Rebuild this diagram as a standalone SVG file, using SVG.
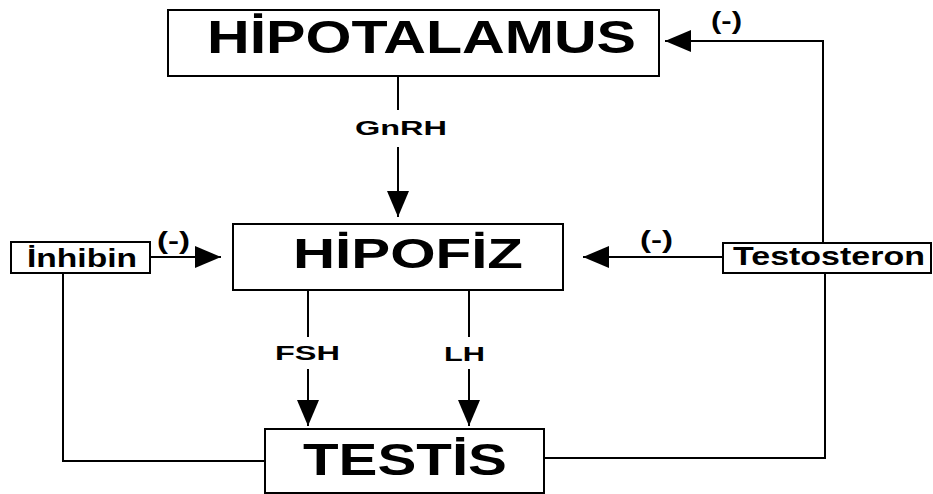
<svg xmlns="http://www.w3.org/2000/svg" width="933" height="494" viewBox="0 0 933 494">
<style>
.box{fill:#fff;stroke:#000;stroke-width:2}
.ln{fill:none;stroke:#000;stroke-width:2}
text{font-family:"Liberation Sans",Arial,sans-serif;font-weight:bold;fill:#000}
</style>
<defs>
<marker id="ah" viewBox="0 0 26 22" refX="26" refY="11" markerWidth="26" markerHeight="22" markerUnits="userSpaceOnUse" orient="auto">
<path d="M0,0 L26,11 L0,22 Z" fill="#000"/>
</marker>
</defs>
<rect width="933" height="494" fill="#fff"/>
<g id="connectors">
<line class="ln" x1="398" y1="76" x2="398" y2="110"/>
<line class="ln" x1="398" y1="147" x2="398" y2="217" marker-end="url(#ah)"/>
<polyline class="ln" points="823,243 823,41 665,41" marker-end="url(#ah)"/>
<line class="ln" x1="723" y1="257" x2="583" y2="257" marker-end="url(#ah)"/>
<line class="ln" x1="150" y1="257" x2="221" y2="257" marker-end="url(#ah)"/>
<polyline class="ln" points="63,273 63,461 265,461"/>
<polyline class="ln" points="825,273 825,458 544,458"/>
<line class="ln" x1="308" y1="290" x2="308" y2="337"/>
<line class="ln" x1="308" y1="369" x2="308" y2="426" marker-end="url(#ah)"/>
<line class="ln" x1="469" y1="290" x2="469" y2="337"/>
<line class="ln" x1="469" y1="369" x2="469" y2="426" marker-end="url(#ah)"/>
<text x="355" y="135" font-size="20.5" textLength="92" lengthAdjust="spacingAndGlyphs">GnRH</text>
<text x="275" y="360" font-size="20.5" textLength="65" lengthAdjust="spacingAndGlyphs">FSH</text>
<text x="444" y="361" font-size="20.5" textLength="41" lengthAdjust="spacingAndGlyphs">LH</text>
<text x="157" y="249" font-size="23" textLength="33" lengthAdjust="spacingAndGlyphs">(-)</text>
<text x="640" y="248" font-size="23" textLength="33" lengthAdjust="spacingAndGlyphs">(-)</text>
<text x="711" y="29" font-size="23" textLength="31" lengthAdjust="spacingAndGlyphs">(-)</text>
</g>
<g id="hipotalamus">
<rect class="box" x="168" y="10" width="491" height="66"/>
<text x="207" y="53" font-size="46" textLength="429" lengthAdjust="spacingAndGlyphs">HİPOTALAMUS</text>
</g>
<g id="hipofiz">
<rect class="box" x="233" y="224" width="330" height="66"/>
<text x="293" y="268" font-size="42" textLength="230" lengthAdjust="spacingAndGlyphs">HİPOFİZ</text>
</g>
<g id="inhibin">
<rect class="box" x="11" y="242" width="139" height="31"/>
<text x="27" y="267" font-size="25" textLength="110" lengthAdjust="spacingAndGlyphs">İnhibin</text>
</g>
<g id="testosteron">
<rect class="box" x="723" y="243" width="208" height="30"/>
<text x="733" y="265" font-size="25" textLength="192" lengthAdjust="spacingAndGlyphs">Testosteron</text>
</g>
<g id="testis">
<rect class="box" x="265" y="429" width="279" height="64"/>
<text x="303" y="475" font-size="45" textLength="204" lengthAdjust="spacingAndGlyphs">TESTİS</text>
</g>
</svg>
